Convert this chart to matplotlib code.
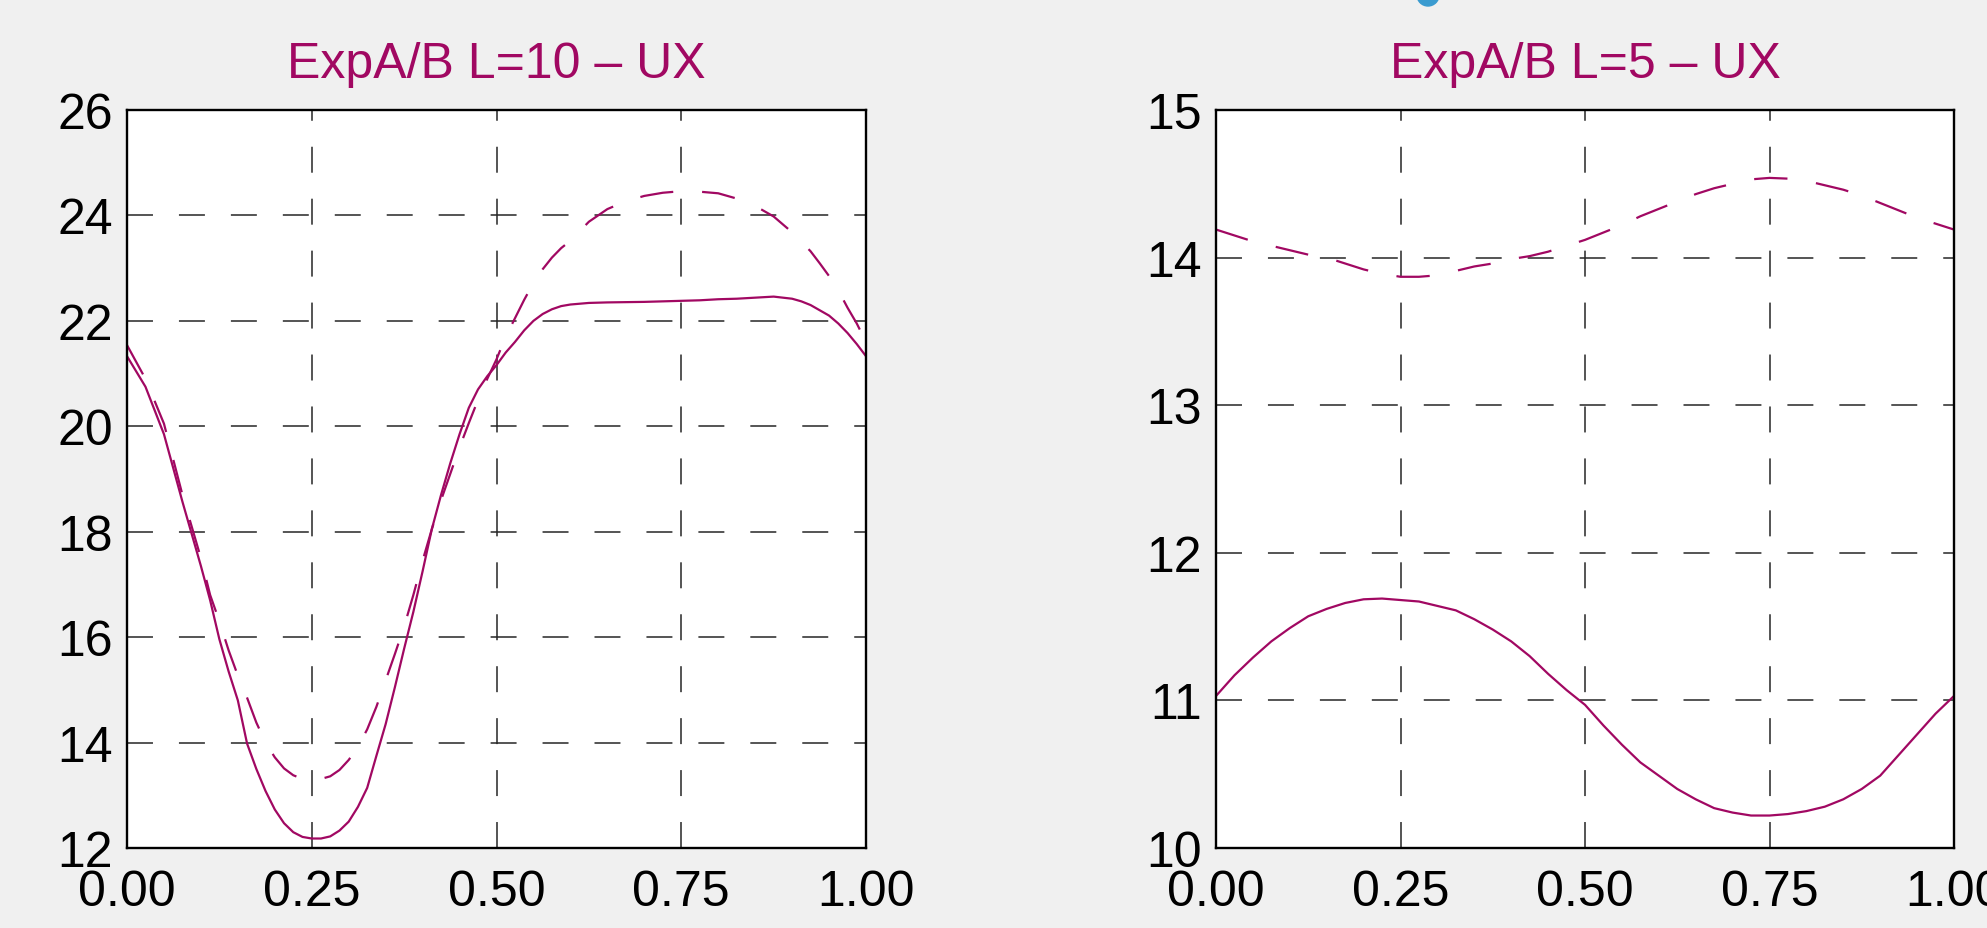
import matplotlib.pyplot as plt
from matplotlib.patches import Ellipse

# UX profiles along normalised position, L=10 case
x_l10 = [0.0, 0.025, 0.05, 0.075, 0.1, 0.1125, 0.125, 0.1375, 0.15, 0.1625,
         0.175, 0.1875, 0.2, 0.2125, 0.225, 0.2375, 0.25, 0.2625, 0.275, 0.2875,
         0.3, 0.3125, 0.325, 0.3375, 0.35, 0.3625, 0.375, 0.3875, 0.4, 0.4125,
         0.425, 0.4375, 0.45, 0.4625, 0.475, 0.4875, 0.5, 0.5125, 0.525, 0.5375,
         0.55, 0.5625, 0.575, 0.5875, 0.6, 0.625, 0.65, 0.675, 0.7, 0.725,
         0.75, 0.775, 0.8, 0.825, 0.85, 0.875, 0.9, 0.9125, 0.925, 0.9375,
         0.95, 0.9625, 0.975, 0.9875, 1.0]
ux_a_l10 = [21.33, 20.75, 19.85, 18.57, 17.35, 16.7, 15.96, 15.35, 14.8, 13.98,
            13.5, 13.08, 12.73, 12.47, 12.3, 12.21, 12.18, 12.18, 12.22, 12.33,
            12.5, 12.78, 13.14, 13.75, 14.35, 15.05, 15.78, 16.48, 17.25, 18.05,
            18.7, 19.3, 19.85, 20.35, 20.7, 20.95, 21.16, 21.4, 21.6, 21.82,
            22.0, 22.13, 22.22, 22.28, 22.31, 22.34, 22.35, 22.355, 22.36, 22.37,
            22.38, 22.39, 22.41, 22.42, 22.44, 22.46, 22.42, 22.37, 22.3, 22.2,
            22.1, 21.95, 21.77, 21.56, 21.33]
ux_b_l10 = [21.54, 20.9, 20.05, 18.7, 17.5, 16.8, 16.3, 15.75, 15.27, 14.85,
            14.38, 14.0, 13.72, 13.51, 13.38, 13.31, 13.29, 13.31, 13.36, 13.48,
            13.67, 13.92, 14.25, 14.68, 15.18, 15.68, 16.2, 16.8, 17.45, 18.05,
            18.6, 19.1, 19.6, 20.06, 20.5, 20.9, 21.27, 21.7, 22.05, 22.4,
            22.72, 22.98, 23.2, 23.38, 23.52, 23.88, 24.12, 24.27, 24.37, 24.43,
            24.46, 24.45, 24.42, 24.32, 24.18, 23.98, 23.68, 23.5, 23.32, 23.09,
            22.85, 22.58, 22.25, 21.95, 21.6]

# L=5 case
x_l5 = [0.0, 0.025, 0.05, 0.075, 0.1, 0.125, 0.15, 0.175, 0.2, 0.225,
        0.25, 0.275, 0.3, 0.325, 0.35, 0.375, 0.4, 0.425, 0.45, 0.475,
        0.5, 0.525, 0.55, 0.575, 0.6, 0.625, 0.65, 0.675, 0.7, 0.725,
        0.75, 0.775, 0.8, 0.825, 0.85, 0.875, 0.9, 0.925, 0.95, 0.975, 1.0]
ux_a_l5 = [11.03, 11.17, 11.29, 11.4, 11.49, 11.57, 11.62, 11.66, 11.685, 11.69,
           11.68, 11.67, 11.64, 11.61, 11.55, 11.48, 11.4, 11.3, 11.18, 11.07,
           10.97, 10.83, 10.7, 10.58, 10.49, 10.4, 10.33, 10.27, 10.24, 10.22,
           10.22, 10.23, 10.25, 10.28, 10.33, 10.4, 10.49, 10.63, 10.77, 10.91, 11.03]
ux_b_l5 = [14.19, 14.15, 14.11, 14.08, 14.05, 14.02, 14.0, 13.96, 13.92, 13.89,
           13.87, 13.87, 13.88, 13.91, 13.94, 13.96, 13.99, 14.01, 14.04, 14.08,
           14.12, 14.17, 14.22, 14.28, 14.33, 14.38, 14.43, 14.47, 14.5, 14.53,
           14.54, 14.535, 14.52, 14.49, 14.46, 14.42, 14.37, 14.32, 14.27, 14.23, 14.19]

x_ticks = [0.0, 0.25, 0.5, 0.75, 1.0]
x_ticklabels = ["0.00", "0.25", "0.50", "0.75", "1.00"]
yticks_l10 = [12, 14, 16, 18, 20, 22, 24, 26]
yticks_l5 = [10, 11, 12, 13, 14, 15]

line_color = "#a10862"
bg = "#f0f0f0"

plt.rcParams["font.family"] = ["Liberation Sans", "DejaVu Sans"]

fig = plt.figure(figsize=(19.87, 9.29), dpi=100, facecolor=bg)
W, H = 1987, 929
ax1 = fig.add_axes([127 / W, 1 - 849 / H, (866 - 127) / W, (849 - 111) / H])
ax2 = fig.add_axes([1216 / W, 1 - 849 / H, (1954 - 1216) / W, (849 - 111) / H])

panels = [
    (ax1, x_l10, ux_a_l10, ux_b_l10, yticks_l10, "ExpA/B L=10 \u2013 UX"),
    (ax2, x_l5, ux_a_l5, ux_b_l5, yticks_l5, "ExpA/B L=5 \u2013 UX"),
]

for ax, xs, ya, yb, yt, title in panels:
    ax.set_facecolor("white")
    ax.plot(xs, ya, color=line_color, lw=1.6, solid_joinstyle="round")
    ax.plot(xs, yb, color=line_color, lw=1.6, dashes=(15, 13))
    ax.set_xlim(0, 1)
    ax.set_ylim(yt[0], yt[-1])
    ax.set_xticks(x_ticks)
    ax.set_xticklabels(x_ticklabels)
    ax.set_yticks(yt)
    ax.grid(True, color="#262626", lw=1.1, dashes=(17, 17))
    ax.tick_params(length=0, labelsize=36, colors="black")
    ax.tick_params(axis="x", pad=15)
    ax.tick_params(axis="y", pad=10)
    for s in ax.spines.values():
        s.set_linewidth(1.7)
        s.set_color("black")
    ax.set_title(title, color=line_color, fontsize=36, pad=24)

# small blue mark cut off at the top edge
fig.add_artist(Ellipse((1428 / W, 1.0 + 4 / H), 22 / W, 22 / H,
                       transform=fig.transFigure, color="#3a9bd0", clip_on=False))

fig.savefig("out.png", dpi=100, facecolor=bg)
